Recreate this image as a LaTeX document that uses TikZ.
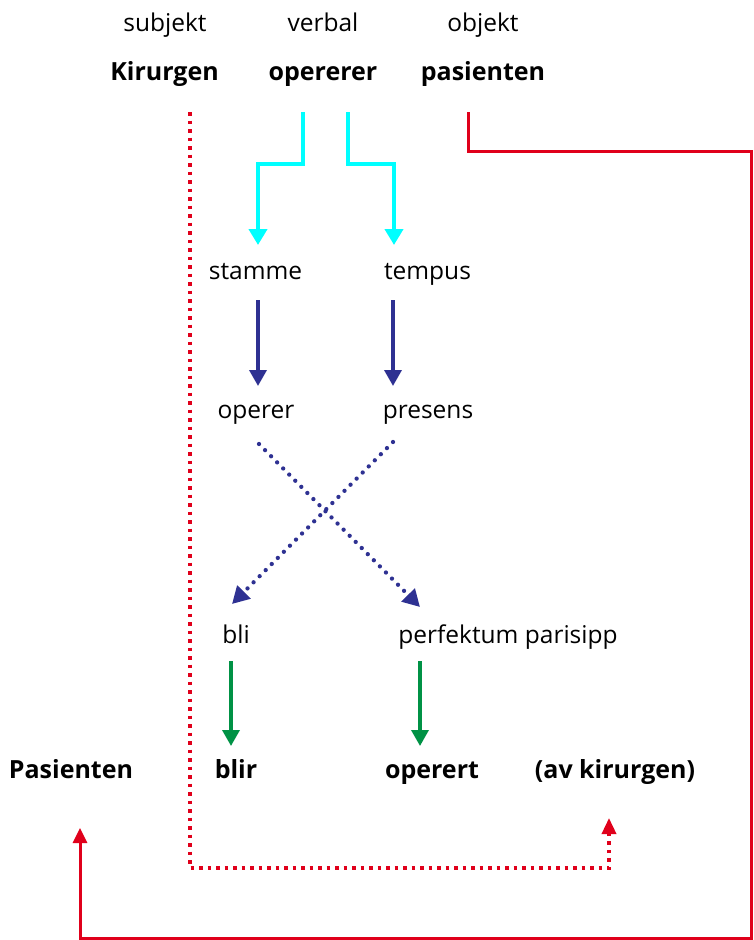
\documentclass[tikz,border=0pt]{standalone}
\usepackage{fontspec}
\setmainfont{Open Sans}
\usetikzlibrary{arrows.meta}
\definecolor{cred}{HTML}{E0001B}
\definecolor{ccyan}{HTML}{00FFFF}
\definecolor{cnavy}{HTML}{2E3192}
\definecolor{cgreen}{HTML}{009245}
\begin{document}
\begin{tikzpicture}[x=1pt,y=-1pt,
  lbl/.style={inner sep=0pt, anchor=base, font=\fontsize{24.5}{28}\selectfont},
  blbl/.style={inner sep=0pt, anchor=base, font=\fontsize{25}{29}\selectfont\bfseries},
  cyanarr/.style={draw=ccyan, line width=4pt, -{Triangle[width=18pt,length=16pt]}, ccyan},
  navyarr/.style={draw=cnavy, line width=3.5pt, -{Triangle[width=17pt,length=16pt]}, cnavy},
  navydot/.style={draw=cnavy, line width=4.3pt, line cap=round, dash pattern=on 0pt off 8.6pt, -{Triangle[width=18pt,length=17pt]}, cnavy},
  greenarr/.style={draw=cgreen, line width=3.5pt, -{Triangle[width=17pt,length=16pt]}, cgreen},
  redsolid/.style={draw=cred, line width=3pt, -{Triangle[width=14pt,length=15pt]}, cred},
  reddot/.style={draw=cred, line width=3.5pt, dash pattern=on 3.5pt off 5pt, -{Triangle[width=14pt,length=16pt]}, cred}]
\useasboundingbox (0,0) rectangle (753,940);
% top labels
\node[lbl] (subj) at (165,31) {subjekt};
\node[lbl] (verb) at (323,31) {verbal};
\node[lbl] (obj) at (483,31) {objekt};
\node[blbl] (kir) at (164.5,80) {Kirurgen};
\node[blbl] (ope) at (323,80) {opererer};
\node[blbl] (pas) at (483,80) {pasienten};
% middle
\node[lbl] (stamme) at (255.5,279) {stamme};
\node[lbl] (tempus) at (427.5,279) {tempus};
\node[lbl] (operer) at (256,418) {operer};
\node[lbl] (presens) at (428,418) {presens};
\node[lbl] (bli) at (236,643) {bli};
\node[lbl] (perf) at (508,643) {perfektum parisipp};
% bottom
\node[blbl] (Pas) at (71,778) {Pasienten};
\node[blbl] (blir) at (236,778) {blir};
\node[blbl] (operert) at (432,778) {operert};
\node[blbl] (av) at (615,778) {(av kirurgen)};
% coordinates
\coordinate (c1s) at (303,112);
\coordinate (c1e) at (258,245);
\coordinate (c2s) at (348,112);
\coordinate (c2e) at (394,245);
\coordinate (n1s) at (258,300);
\coordinate (n1e) at (258,386);
\coordinate (n2s) at (393,300);
\coordinate (n2e) at (393,386);
\coordinate (d1s) at (259,444);
\coordinate (d1e) at (420,607);
\coordinate (d2s) at (393,442);
\coordinate (d2e) at (232,604);
\coordinate (g1s) at (231,661);
\coordinate (g1e) at (231,746);
\coordinate (g2s) at (420,661);
\coordinate (g2e) at (420,746);
\coordinate (rds) at (190,112);
\coordinate (rde) at (609,818);
\coordinate (rss) at (468,112);
\coordinate (rse) at (80,828);
% cyan
\draw[cyanarr] (c1s) -- (303,164) -- (258,164) -- (c1e);
\draw[cyanarr] (c2s) -- (348,164) -- (394,164) -- (c2e);
% navy
\draw[navyarr] (n1s) -- (n1e);
\draw[navyarr] (n2s) -- (n2e);
\draw[navydot] (d1s) -- (d1e);
\draw[navydot] (d2s) -- (d2e);
% green
\draw[greenarr] (g1s) -- (g1e);
\draw[greenarr] (g2s) -- (g2e);
% red
\draw[reddot] (rds) -- (190,868) -- (609,868) -- (rde);
\draw[redsolid] (rss) -- (468,151) -- (751,151) -- (751,938) -- (80,938) -- (rse);
\end{tikzpicture}
\end{document}
